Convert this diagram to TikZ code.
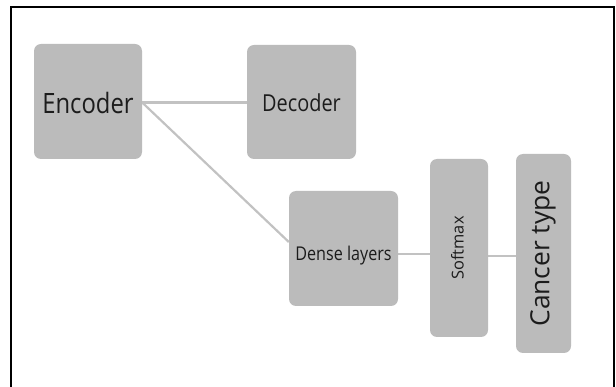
\documentclass[tikz,border=0pt]{standalone}
\usepackage{fontspec}
\setmainfont{Open Sans}
\newfontfamily\narrowsans{Open Sans}[FakeStretch=0.85]
\usetikzlibrary{backgrounds}
\definecolor{boxgray}{HTML}{BBBBBB}
\definecolor{linkgray}{HTML}{C2C2C2}
\definecolor{inkgray}{HTML}{1C1C1C}
\begin{document}
\begin{tikzpicture}[x=1pt,y=-1pt,
  block/.style={fill=boxgray,rounded corners=7pt,inner sep=0pt,text=inkgray,
    text depth=0pt,align=center},
  flatblock/.style={block,font=\narrowsans},
  upblock/.style={block,rotate=90},
  link/.style={draw=linkgray,line width=2.2pt}]
  \useasboundingbox (0,0) rectangle (616,387);
  % outer frame (runs past the lower edge)
  \draw[line width=2pt,line join=miter] (11,395) -- (11,7) -- (614,7) -- (614,395);

  % blocks
  \node[flatblock,minimum width=108pt,minimum height=115pt,text height=23.6pt,
        font=\narrowsans\fontsize{28}{30}\selectfont] (enc) at (88,101.5) {Encoder};
  \node[flatblock,minimum width=109pt,minimum height=114pt,text height=19.7pt,
        font=\narrowsans\fontsize{23.4}{26}\selectfont] (dec) at (301.5,102) {Decoder};
  \node[flatblock,minimum width=109pt,minimum height=115pt,text height=24.6pt,
        font=\narrowsans\fontsize{19}{21}\selectfont] (dense) at (343.5,248.5) {Dense layers};
  \node[upblock,minimum width=178pt,minimum height=58pt,text height=9pt,
        font=\fontsize{16.4}{18}\selectfont] (soft) at (459,248) {Softmax};
  \node[upblock,minimum width=199pt,minimum height=55pt,text height=11.7pt,
        font=\fontsize{26.4}{29}\selectfont] (canc) at (543.5,253.5) {Cancer type};

  % connectors
  \coordinate (encout) at ([yshift=-1pt]enc.east);
  \coordinate (densein) at ([yshift=6.5pt]dense.west);
  \coordinate (denseout) at ([yshift=-5.5pt]dense.east);
  \coordinate (softout) at ([yshift=-8pt]soft.south);
  \begin{scope}[on background layer]
    \draw[link] (encout) -- (encout -| dec.west);
    \draw[link] (encout) -- (densein);
    \draw[link] (denseout) -- (denseout -| soft.north);
    \draw[link] (softout) -- (softout -| canc.north);
  \end{scope}
\end{tikzpicture}
\end{document}
